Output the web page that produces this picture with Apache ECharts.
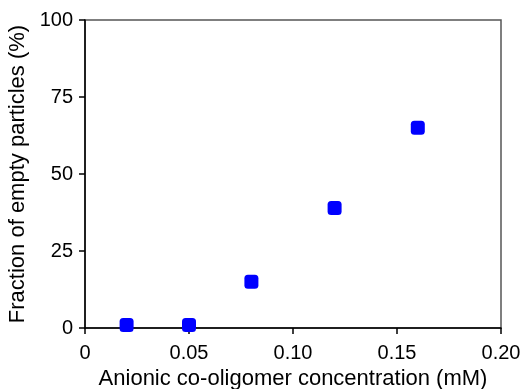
<!DOCTYPE html>
<html>
<head>
<meta charset="utf-8">
<script src="https://cdn.jsdelivr.net/npm/echarts@6/dist/echarts.min.js"></script>
<style>
  html, body { margin: 0; padding: 0; background: #fff; }
  #chart { width: 531px; height: 389px; }
</style>
</head>
<body>
<div id="chart"></div>
<script>
// 数据
const concentration = [0.02, 0.05, 0.08, 0.12, 0.16];
const emptyFraction = [1, 1, 15, 39, 65];
const xTicks = [0, 0.05, 0.10, 0.15, 0.20];
const yTicks = [0, 25, 50, 75, 100];

const chart = echarts.init(document.getElementById("chart"));
const font = "Liberation Sans, Arial, sans-serif";

chart.setOption({
  animation: false,
  grid: {
    left: 85,
    right: 30,
    top: 20,
    bottom: 61,
    outerBoundsMode: "none",
    containLabel: false,
    show: true,
    borderColor: "#555",
    borderWidth: 1.5,
  },
  xAxis: {
    type: "value",
    min: xTicks[0],
    max: xTicks[xTicks.length - 1],
    interval: 0.05,
    name: "Anionic co-oligomer concentration (mM)",
    nameLocation: "middle",
    nameGap: 39,
    nameTextStyle: { fontFamily: font, fontSize: 22, color: "#000" },
    axisLine: { show: true, lineStyle: { color: "#000", width: 1.5 } },
    axisTick: { show: true, inside: false, length: 6, lineStyle: { color: "#000", width: 1.5 } },
    axisLabel: {
      fontFamily: font,
      fontSize: 20,
      color: "#000",
      margin: 15,
      formatter: (v) => (v === 0 ? "0" : v.toFixed(2)),
    },
    splitLine: { show: false },
  },
  yAxis: {
    type: "value",
    min: yTicks[0],
    max: yTicks[yTicks.length - 1],
    interval: 25,
    name: "Fraction of empty particles (%)",
    nameLocation: "middle",
    nameGap: 49,
    nameTextStyle: { fontFamily: font, fontSize: 22, color: "#000" },
    axisLine: { show: true, lineStyle: { color: "#000", width: 1.5 } },
    axisTick: { show: true, inside: false, length: 6, lineStyle: { color: "#000", width: 1.5 } },
    axisLabel: { fontFamily: font, fontSize: 20, color: "#000", margin: 12 },
    splitLine: { show: false },
  },
  series: [
    {
      type: "scatter",
      data: concentration.map((x, i) => [x, emptyFraction[i]]),
      symbol: "roundRect",
      symbolSize: 14,
      itemStyle: { color: "#0000ff", opacity: 1 },
    },
  ],
});
</script>
</body>
</html>
